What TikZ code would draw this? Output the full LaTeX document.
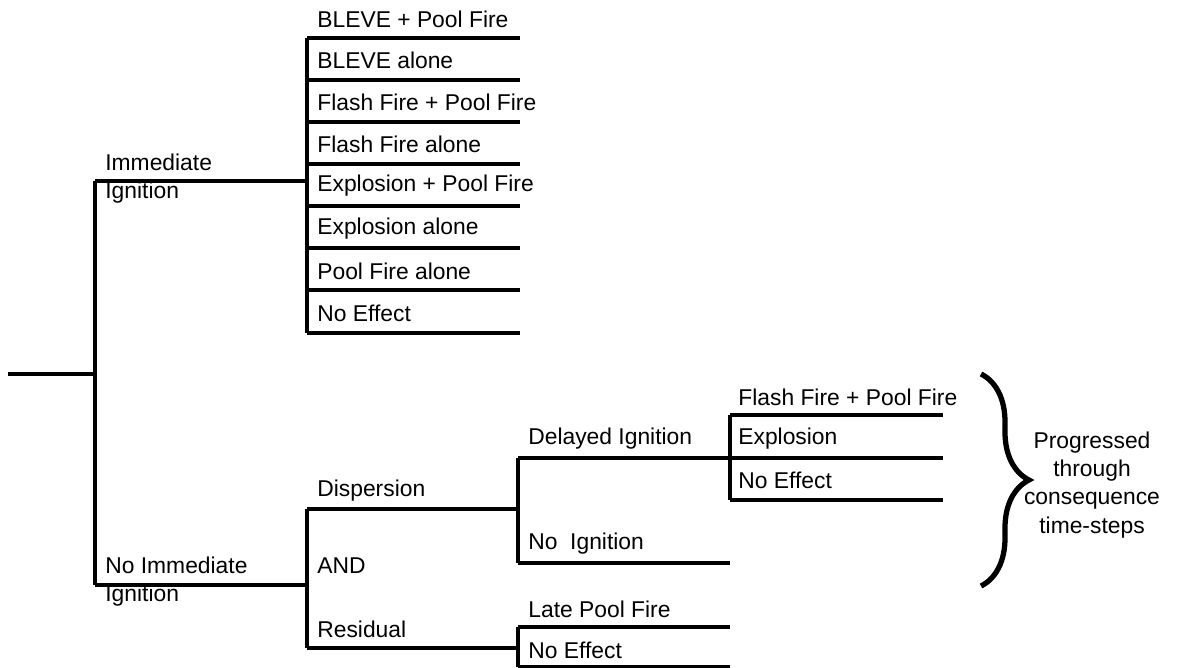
\documentclass[tikz,border=0pt]{standalone}
\usepackage{fontspec}
\setmainfont{Liberation Sans}
\usetikzlibrary{decorations.pathreplacing}

\begin{document}
\begin{tikzpicture}[
    x=0.02cm, y=-0.02cm,
    branch/.style={line width=2pt},
    lbl/.style={anchor=west, inner sep=0pt, align=left,
      font=\fontsize{13}{16}\selectfont},
    note/.style={inner sep=0pt, align=center,
      font=\fontsize{13}{16}\selectfont},
    curly/.style={line width=3pt,
      decorate, decoration={brace, amplitude=0.96cm}},
  ]
    \useasboundingbox (0,0) rectangle (1179,668);

    % root and first split
    \coordinate (start) at (8,374);
    \coordinate (root) at (95,374);
    \coordinate (imm0) at (95,181);
    \coordinate (imm1) at (307,181);
    \coordinate (nimm0) at (95,585);
    \coordinate (nimm1) at (307,585);
    \draw[branch] (start) -- (root);
    \draw[branch] (imm0) -- (nimm0);
    \draw[branch] (imm0) -- (imm1);
    \draw[branch] (nimm0) -- (nimm1);
    \node[lbl] (immlbl) at (105,179) {Immediate\\Ignition};
    \node[lbl] (nimmlbl) at (105,582) {No Immediate\\Ignition};

    % immediate ignition outcomes
    \coordinate (o1) at (307,38);  \coordinate (e1) at (520,38);
    \coordinate (o2) at (307,80);  \coordinate (e2) at (520,80);
    \coordinate (o3) at (307,122); \coordinate (e3) at (520,122);
    \coordinate (o4) at (307,164); \coordinate (e4) at (520,164);
    \coordinate (o5) at (307,206); \coordinate (e5) at (520,206);
    \coordinate (o6) at (307,248); \coordinate (e6) at (520,248);
    \coordinate (o7) at (307,290); \coordinate (e7) at (520,290);
    \coordinate (o8) at (307,333); \coordinate (e8) at (520,333);
    \draw[branch] (o1) -- (o8);
    \draw[branch] (o1) -- (e1);
    \draw[branch] (o2) -- (e2);
    \draw[branch] (o3) -- (e3);
    \draw[branch] (o4) -- (e4);
    \draw[branch] (o5) -- (e5);
    \draw[branch] (o6) -- (e6);
    \draw[branch] (o7) -- (e7);
    \draw[branch] (o8) -- (e8);
    \node[lbl] (blevepf) at (317,19) {BLEVE + Pool Fire};
    \node[lbl] (bleve) at (317,60) {BLEVE alone};
    \node[lbl] (flashpf) at (317,102) {Flash Fire + Pool Fire};
    \node[lbl] (flash) at (317,144) {Flash Fire alone};
    \node[lbl] (explpf) at (317,186) {Explosion + Pool Fire};
    \node[lbl] (expl) at (317,229) {Explosion alone};
    \node[lbl] (pool) at (317,271) {Pool Fire alone};
    \node[lbl] (noeff) at (317,313) {No Effect};

    % no immediate ignition
    \coordinate (disp0) at (307,509); \coordinate (disp1) at (518,509);
    \coordinate (res0) at (307,648);  \coordinate (res1) at (518,648);
    \draw[branch] (disp0) -- (res0);
    \draw[branch] (disp0) -- (disp1);
    \draw[branch] (res0) -- (res1);
    \node[lbl] (displbl) at (317,491) {Dispersion};
    \node[lbl] (andlbl) at (317,566) {AND};
    \node[lbl] (reslbl) at (317,629) {Residual};

    % dispersion
    \coordinate (del0) at (518,458);  \coordinate (del1) at (943,458);
    \coordinate (noig0) at (518,563); \coordinate (noig1) at (730,563);
    \draw[branch] (del0) -- (noig0);
    \draw[branch] (del0) -- (del1);
    \draw[branch] (noig0) -- (noig1);
    \node[lbl] (dellbl) at (528,439) {Delayed Ignition};
    \node[lbl] (noiglbl) at (528,544) {No\ \ Ignition};

    % delayed ignition outcomes
    \coordinate (d1) at (730,415); \coordinate (f1) at (943,415);
    \coordinate (d3) at (730,500); \coordinate (f3) at (943,500);
    \draw[branch] (d1) -- (d3);
    \draw[branch] (d1) -- (f1);
    \draw[branch] (d3) -- (f3);
    \node[lbl] (dflashpf) at (738,397) {Flash Fire + Pool Fire};
    \node[lbl] (dexpl) at (738,439) {Explosion};
    \node[lbl] (dnoeff) at (738,480) {No Effect};

    % residual
    \coordinate (lpf0) at (518,627); \coordinate (lpf1) at (730,627);
    \coordinate (rne0) at (518,667); \coordinate (rne1) at (730,667);
    \draw[branch] (lpf0) -- (rne0);
    \draw[branch] (lpf0) -- (lpf1);
    \draw[branch] (rne0) -- (rne1);
    \node[lbl] (lpflbl) at (528,609) {Late Pool Fire};
    \node[lbl] (rnelbl) at (528,650) {No Effect};

    % brace
    \coordinate (brtop) at (981,374);
    \coordinate (brbot) at (981,586);
    \draw[curly] (brtop) -- (brbot);
    \node[note] (prog) at (1092,485)
      {Progressed\\through\\consequence\\time-steps};
  \end{tikzpicture}
\end{document}
